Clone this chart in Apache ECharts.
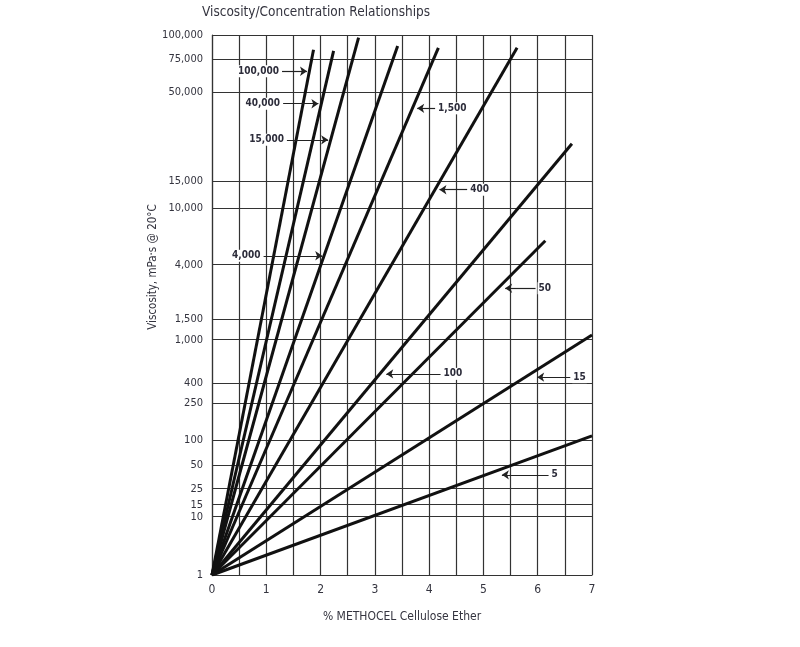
<!DOCTYPE html>
<html>
<head>
<meta charset="utf-8">
<script src="https://cdn.jsdelivr.net/npm/echarts@6/dist/echarts.min.js"></script>
<style>
  html, body { margin: 0; background: #fff; }
  #chart-container { width: 800px; height: 647px; }
</style>
</head>
<body>
<div id="chart-container"></div>
<script>
// the viscosity axis on this chart is a power scale (v^P)
const P = 0.118;
const yTicks = [1, 10, 15, 25, 50, 100, 250, 400, 1000, 1500, 4000, 10000, 15000, 50000, 75000, 100000];
const xMax = 7;

// grade of each line and where it ends (% concentration, viscosity)
const grades = ["100,000", "40,000", "15,000", "4,000", "1,500", "400", "100", "50", "15", "5"];
const endConc = [1.87, 2.24, 2.70, 3.42, 4.17, 5.62, 6.63, 6.14, 7, 7];
const endVisc = [84000, 83000, 97000, 88000, 86000, 86000, 25300, 5960, 1100, 112];

// arrow callouts: tail x, head x, viscosity level
const noteTail = [1.29, 1.31, 1.38, 0.95, 4.11, 4.70, 4.21, 5.96, 6.60, 6.20];
const noteHead = [1.75, 1.96, 2.14, 2.03, 3.78, 4.19, 3.21, 5.40, 5.99, 5.34];
const noteVisc = [64800, 43100, 26700, 4650, 40600, 13150, 489, 2650, 455, 38];

(() => {
  const toU = (v) => Math.pow(v, P) - 1;
  const FONT = '"Liberation Sans Narrow", "DejaVu Sans Condensed", sans-serif';
  const TXT = "#34343f";

  var dom = document.getElementById("chart-container");
  var chart = echarts.init(dom, null, { renderer: "canvas" });

  const lines = grades.map((g, i) => ({
    name: g,
    type: "line",
    data: [[0, toU(1)], [endConc[i], toU(endVisc[i])]],
    showSymbol: false,
    silent: true,
    lineStyle: { color: "#111", width: 3 },
  }));

  const notes = {
    type: "line",
    data: [],
    silent: true,
    markLine: {
      silent: true,
      symbol: ["none", "arrow"],
      symbolSize: 7,
      lineStyle: { color: "#222", width: 1.2, type: "solid" },
      label: {
        position: "start",
        formatter: "{b}",
        distance: 2,
        color: "#2c2c3a",
        fontFamily: FONT,
        fontSize: 10,
        fontWeight: "bold",
        backgroundColor: "#fff",
        padding: [1, 1],
      },
      data: grades.map((g, i) => [
        { name: g, coord: [noteTail[i], toU(noteVisc[i])] },
        { coord: [noteHead[i], toU(noteVisc[i])] },
      ]),
    },
  };

  const option = {
    animation: false,
    title: {
      text: "Viscosity/Concentration Relationships",
      left: 202,
      top: 5,
      padding: 0,
      textStyle: { fontFamily: FONT, fontSize: 13.5, fontWeight: "normal", color: TXT },
    },
    grid: { left: 212, right: 208, top: 35, bottom: 72 },
    xAxis: {
      type: "value",
      min: 0,
      max: xMax,
      interval: 0.5,
      name: "% METHOCEL Cellulose Ether",
      nameLocation: "middle",
      nameGap: 36,
      nameTextStyle: { fontFamily: FONT, fontSize: 12, color: TXT },
      axisLine: { lineStyle: { color: "#333", width: 1.2 } },
      axisTick: { show: false },
      axisLabel: {
        margin: 9,
        fontFamily: FONT,
        fontSize: 12,
        color: TXT,
        formatter: (v) => (Number.isInteger(v) ? String(v) : ""),
      },
      splitLine: { show: true, lineStyle: { color: "#333", width: 1.2 } },
    },
    yAxis: {
      type: "value",
      min: 0,
      max: toU(100000),
      axisLine: { show: true, lineStyle: { color: "#333", width: 1.2 } },
      axisTick: { show: false, customValues: yTicks.map(toU) },
      axisLabel: {
        customValues: yTicks.map(toU),
        margin: 9,
        fontFamily: FONT,
        fontSize: 11,
        color: TXT,
        formatter: (u) => {
          let best = yTicks[0];
          yTicks.forEach((t) => {
            if (Math.abs(toU(t) - u) < Math.abs(toU(best) - u)) best = t;
          });
          return best.toLocaleString("en-US");
        },
      },
      splitLine: { show: true, lineStyle: { color: "#333", width: 1.2 } },
    },
    graphic: [
      {
        type: "text",
        x: 153,
        y: 267,
        rotation: Math.PI / 2,
        style: {
          text: "Viscosity, mPa·s @ 20°C",
          fontFamily: FONT,
          fontSize: 11.5,
          fill: TXT,
          align: "center",
          verticalAlign: "middle",
        },
      },
    ],
    series: lines.concat([notes]),
  };
  chart.setOption(option);
  window.addEventListener("resize", chart.resize);
})();
</script>
</body>
</html>
